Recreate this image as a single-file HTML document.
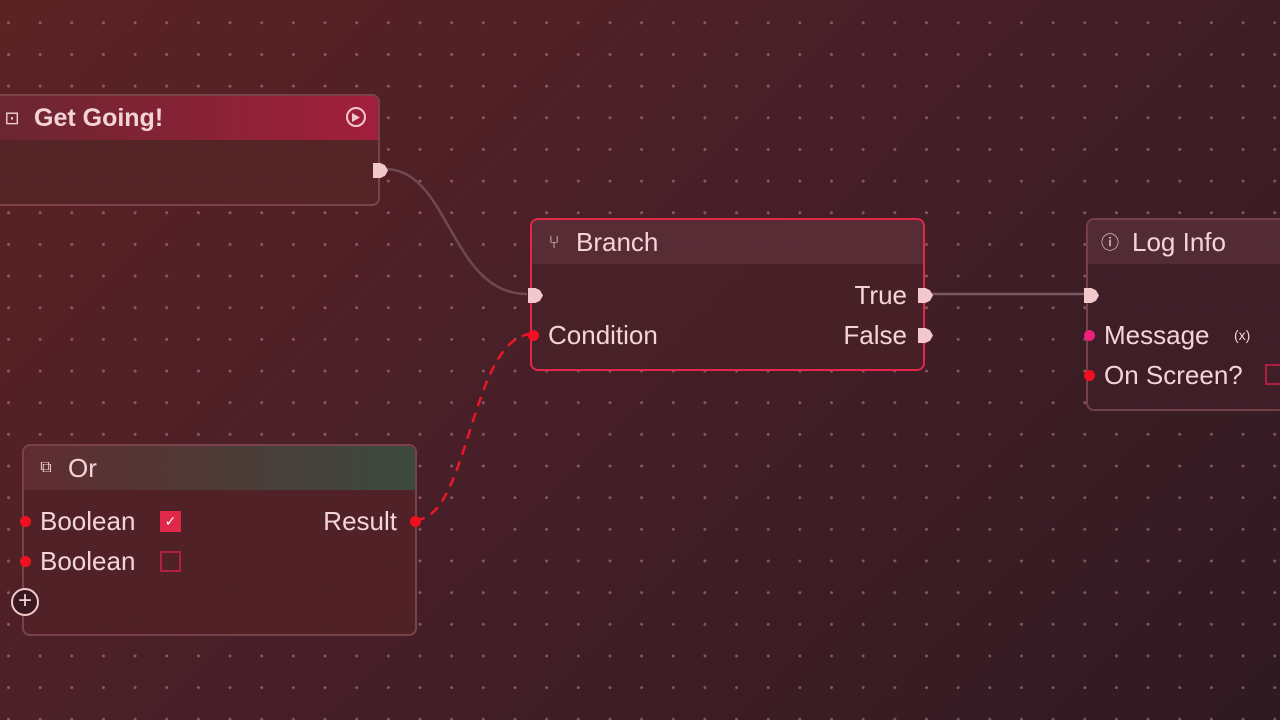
<!DOCTYPE html>
<html><head><meta charset="utf-8"><style>
*{margin:0;padding:0;box-sizing:border-box}
body{width:1280px;height:720px;overflow:hidden;position:relative;font-family:"Liberation Sans","DejaVu Sans",sans-serif;color:#f4d4d8;
background:radial-gradient(circle,rgba(220,160,170,.45) 1.3px,transparent 1.6px) 24.3px 7px/31.67px 31.67px,linear-gradient(135deg,#5c2323 0%,#481f28 45%,#2f1a22 100%);}
.node{position:absolute;border-radius:8px;border:2px solid rgba(140,80,90,.7);background:rgba(78,34,40,.96);overflow:visible}
.hdr{height:44px;display:flex;align-items:center;font-size:26px;padding-left:12px;border-radius:6px 6px 0 0}
.ic{display:inline-block;width:20px;font-size:18px;margin-right:12px;text-align:center}
.lbl{position:absolute;font-size:26px;line-height:28px}
.dot{position:absolute;width:11px;height:11px;border-radius:50%;background:#f01020}
.exec{position:absolute;width:15px;height:15px;background:#f2c8cc;clip-path:polygon(0 0,50% 0,80% 15%,100% 50%,80% 85%,50% 100%,0 100%)}
.cb{position:absolute;width:21px;height:21px;border:2px solid #b02040}
svg{position:absolute;left:0;top:0}
</style></head><body>
<svg width="1280" height="720">
<path d="M385 169 C 450 169, 450 294, 527 294" stroke="#6e4a50" stroke-width="2.5" fill="none"/>
<path d="M930 294 L1085 294" stroke="#7a5a60" stroke-width="2.5" fill="none"/>
<path d="M415 520 C 470 520, 470 334, 533 334" stroke="#e81828" stroke-width="2.5" fill="none" stroke-dasharray="10 7"/>
</svg>

<div class="node" style="left:-10px;top:94px;width:390px;height:112px;background:rgba(84,36,40,.96)">
 <div class="hdr" style="background:linear-gradient(90deg,#6a2630,#a21f3c);padding-left:10px"><span class="ic">⊡</span><span style="font-weight:bold;font-size:25px">Get Going!</span></div>
 <div style="position:absolute;right:12px;top:11px;width:20px;height:20px;border:2px solid #f2c8cc;border-radius:50%"></div>
 <div style="position:absolute;right:18px;top:17px;width:8px;height:9px;clip-path:polygon(0 0,100% 50%,0 100%);background:#f2c8cc"></div>
 <div class="exec" style="left:381px;top:67px"></div>
</div>

<div class="node" style="left:530px;top:218px;width:395px;height:153px;border-color:#e2284a;background:rgba(72,32,40,.96)">
 <div class="hdr" style="background:rgba(120,70,80,.35)"><span class="ic">⑂</span><span>Branch</span></div>
 <div class="exec" style="left:-4px;top:68px"></div>
 <div class="dot" style="left:-4px;top:110px"></div>
 <div class="lbl" style="left:16px;top:101px">Condition</div>
 <div class="lbl" style="right:16px;top:61px">True</div>
 <div class="lbl" style="right:16px;top:101px">False</div>
 <div class="exec" style="left:386px;top:68px"></div>
 <div class="exec" style="left:386px;top:108px"></div>
</div>

<div class="node" style="left:1086px;top:218px;width:220px;height:193px;background:rgba(62,30,40,.96)">
 <div class="hdr" style="background:rgba(120,70,80,.35)"><span class="ic">ⓘ</span><span>Log Info</span></div>
 <div class="exec" style="left:-4px;top:68px"></div>
 <div class="dot" style="left:-4px;top:110px;background:#f0207a"></div>
 <div class="lbl" style="left:16px;top:101px">Message</div>
 <div style="position:absolute;left:146px;top:107px;font-size:14px">(x)</div>
 <div class="dot" style="left:-4px;top:150px"></div>
 <div class="lbl" style="left:16px;top:141px">On Screen?</div>
 <div class="cb" style="left:177px;top:144px"></div>
</div>

<div class="node" style="left:22px;top:444px;width:395px;height:192px;background:rgba(80,34,40,.96)">
 <div class="hdr" style="background:linear-gradient(90deg,rgba(120,60,65,.4),#3c4a3e)"><span class="ic" style="font-size:16px">⧉</span><span>Or</span></div>
 <div class="dot" style="left:-4px;top:70px"></div>
 <div class="lbl" style="left:16px;top:61px">Boolean</div>
 <div class="cb" style="left:136px;top:65px;background:#e0284a;border-color:#e0284a;color:#fff;font-size:14px;text-align:center;line-height:17px">✓</div>
 <div class="dot" style="left:-4px;top:110px"></div>
 <div class="lbl" style="left:16px;top:101px">Boolean</div>
 <div class="cb" style="left:136px;top:105px"></div>
 <div class="lbl" style="right:18px;top:61px">Result</div>
 <div class="dot" style="left:386px;top:70px"></div>
 <div style="position:absolute;left:-13px;top:142px;width:28px;height:28px;border-radius:50%;border:2px solid #f2c8cc;background:#3a1a20;text-align:center;line-height:22px;font-size:24px">+</div>
</div>
</body></html>
